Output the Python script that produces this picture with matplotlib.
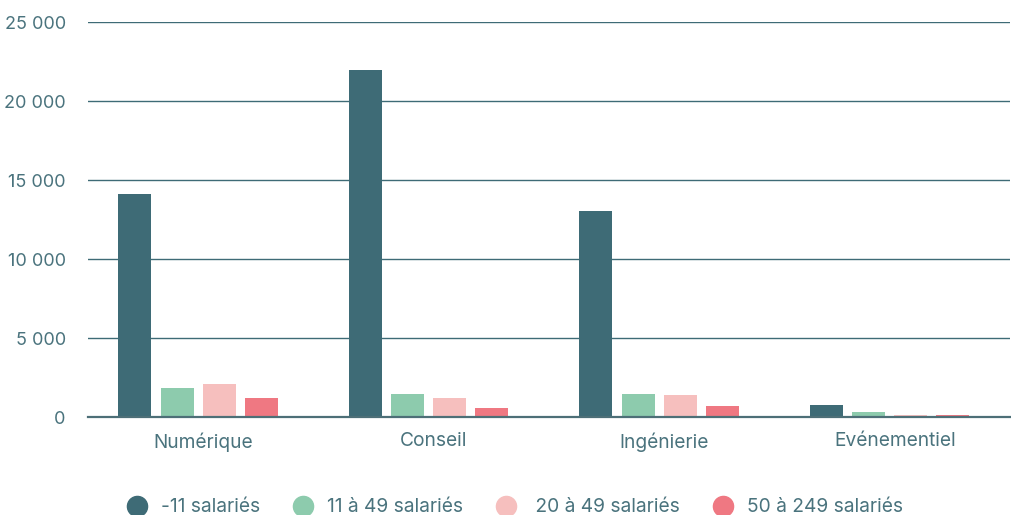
import numpy as np
import matplotlib
matplotlib.use('Agg')
import matplotlib.pyplot as plt
from matplotlib.lines import Line2D
from matplotlib.ticker import FuncFormatter

plt.rcParams['font.family'] = ['Inter', 'DejaVu Sans']

secteurs = ['Numérique', 'Conseil', 'Ingénierie', 'Evénementiel']
tranches = ['-11 salariés', '11 à 49 salariés', ' 20 à 49 salariés', '50 à 249 salariés']
effectifs = [
    [14100, 22000, 13050, 760],   # -11 salariés
    [1850, 1450, 1450, 320],      # 11 à 49
    [2100, 1200, 1400, 130],      # 20 à 49
    [1200, 570, 700, 130],        # 50 à 249
]
couleurs = ['#3e6b76', '#8dcbad', '#f6bfbe', '#ef7882']
texte = '#4a737d'
grille = '#3e6b76'

fig = plt.figure(figsize=(10.11, 5.15), dpi=100)
ax = fig.add_axes([0.087, 0.19, 0.912, 0.767])

x = np.arange(len(secteurs))
largeur = 0.143
pas = 0.183
for i, (vals, c) in enumerate(zip(effectifs, couleurs)):
    ax.bar(x + (i - 1.5) * pas - 0.022, vals, width=largeur, color=c, zorder=3)

ax.set_xlim(-0.5, 3.5)
ax.set_ylim(0, 25000)
ax.set_yticks(np.arange(0, 25001, 5000))
ax.yaxis.set_major_formatter(FuncFormatter(lambda v, p: f'{int(v):,}'.replace(',', ' ')))
ax.set_xticks(x)
ax.set_xticklabels(secteurs)

ax.grid(axis='y', color=grille, linewidth=1, zorder=0)
for s in ['top', 'right', 'left']:
    ax.spines[s].set_visible(False)
ax.spines['bottom'].set_color('#4d6f77')
ax.spines['bottom'].set_linewidth(1.6)
ax.spines['bottom'].set_zorder(4)
ax.tick_params(axis='x', length=0, colors=texte, labelsize=13.8, pad=11)
ax.tick_params(axis='y', length=0, colors=texte, labelsize=13, pad=16)

handles = [Line2D([], [], marker='o', linestyle='', markersize=14.5,
                  markerfacecolor=c, markeredgecolor=c) for c in couleurs]
leg = fig.legend(handles, tranches, loc='center', ncol=4, frameon=False,
                 bbox_to_anchor=(0.505, 0.015), fontsize=13.8, handletextpad=0.25,
                 columnspacing=1.25)
for t in leg.get_texts():
    t.set_color(texte)

fig.savefig('out.png', dpi=100)
